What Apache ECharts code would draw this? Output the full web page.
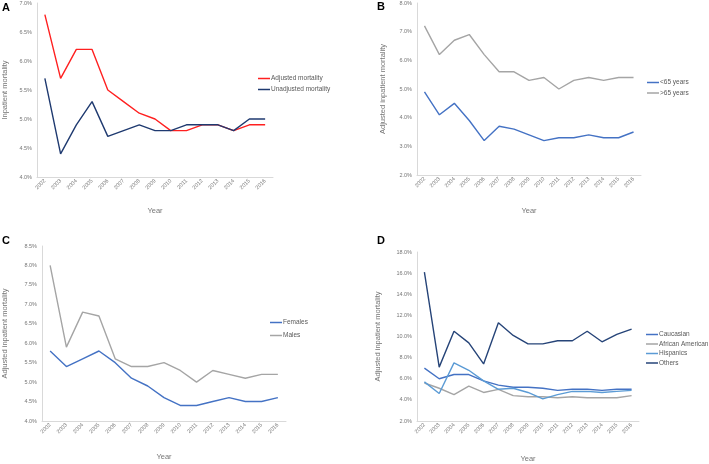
<!DOCTYPE html>
<html><head><meta charset="utf-8">
<script src="https://cdn.jsdelivr.net/npm/echarts@6/dist/echarts.min.js"></script>
<style>html,body{margin:0;padding:0;background:#fff}#c{width:709px;height:464px}</style>
</head><body><div id="c"></div>
<script>
const years = ['2002','2003','2004','2005','2006','2007','2008','2009','2010','2011','2012','2013','2014','2015','2016'];
// Panel A
const adjusted = [6.8,5.7,6.2,6.2,5.5,5.3,5.1,5.0,4.8,4.8,4.9,4.9,4.8,4.9,4.9];
const unadjusted = [5.7,4.4,4.9,5.3,4.7,4.8,4.9,4.8,4.8,4.9,4.9,4.9,4.8,5.0,5.0];
// Panel B
const under65 = [4.9,4.1,4.5,3.9,3.2,3.7,3.6,3.4,3.2,3.3,3.3,3.4,3.3,3.3,3.5];
const over65 = [7.2,6.2,6.7,6.9,6.2,5.6,5.6,5.3,5.4,5.0,5.3,5.4,5.3,5.4,5.4];
// Panel C
const females = [5.8,5.4,5.6,5.8,5.5,5.1,4.9,4.6,4.4,4.4,4.5,4.6,4.5,4.5,4.6];
const males = [8.0,5.9,6.8,6.7,5.6,5.4,5.4,5.5,5.3,5.0,5.3,5.2,5.1,5.2,5.2];
// Panel D
const caucasian = [7.0,6.0,6.4,6.4,5.8,5.4,5.2,5.2,5.1,4.9,5.0,5.0,4.9,5.0,5.0];
const africanAmerican = [5.6,5.1,4.5,5.3,4.7,5.0,4.4,4.3,4.3,4.2,4.3,4.2,4.2,4.2,4.4];
const hispanics = [5.7,4.6,7.5,6.8,5.8,5.0,5.1,4.7,4.1,4.5,4.8,4.8,4.7,4.8,4.9];
const others = [16.1,7.1,10.5,9.4,7.4,11.3,10.1,9.3,9.3,9.6,9.6,10.5,9.5,10.2,10.7];

const axisGray = '#d9d9d9', txt = '#767676';
const grids = [
  {left:36, top:3, width:237, height:174},
  {left:417, top:3, width:224, height:172},
  {left:42, top:246, width:244, height:175},
  {left:417, top:252, width:222, height:175}
];
const yCfg = [
  {min:4, max:7, interval:0.5, name:'Inpatient mortality', gap:28},
  {min:2, max:8, interval:1, name:'Adjusted inpatient mortality', gap:30},
  {min:4, max:8.5, interval:0.5, name:'Adjusted inpatient mortality', gap:33},
  {min:2, max:18, interval:2, name:'Adjusted inpatient mortality', gap:35}
];
const xGap = [30, 32, 32, 34];
const xAxis = grids.map((g,i)=>({
  type:'category', gridIndex:i, data:years, boundaryGap:true,
  name:'Year', nameLocation:'middle', nameGap:xGap[i],
  nameTextStyle:{fontSize:7.5, color:txt, fontFamily:'Liberation Sans'},
  axisLine:{lineStyle:{color:axisGray, width:1}}, axisTick:{show:false},
  axisLabel:{rotate:45, fontSize:5.5, color:txt, interval:0, margin:3, fontFamily:'Liberation Sans'}
}));
const yAxis = yCfg.map((c,i)=>({
  type:'value', gridIndex:i, min:c.min, max:c.max, interval:c.interval,
  name:c.name, nameLocation:'middle', nameRotate:90, nameGap:c.gap,
  nameTextStyle:{fontSize:7.5, color:txt, fontFamily:'Liberation Sans'},
  axisLine:{show:true, lineStyle:{color:axisGray, width:1}}, axisTick:{show:false},
  splitLine:{show:false},
  axisLabel:{fontSize:5.5, color:txt, margin:5, fontFamily:'Liberation Sans', formatter:v=>v.toFixed(1)+'%'}
}));
function ln(name, data, color, idx){
  return {type:'line', name, data, xAxisIndex:idx, yAxisIndex:idx, showSymbol:false, symbol:'none',
    lineStyle:{color, width:1.4}, itemStyle:{color}};
}
const series = [
  ln('Adjusted mortality', adjusted, '#ff2020', 0),
  ln('Unadjusted mortality', unadjusted, '#1f3a70', 0),
  ln('<65 years', under65, '#4472c4', 1),
  ln('>65 years', over65, '#a5a5a5', 1),
  ln('Females', females, '#4472c4', 2),
  ln('Males', males, '#a5a5a5', 2),
  ln('Caucasian', caucasian, '#4472c4', 3),
  ln('African American', africanAmerican, '#a5a5a5', 3),
  ln('Hispanics', hispanics, '#5b9bd5', 3),
  ln('Others', others, '#264478', 3)
];
function lg(names, left, top, gap){
  return {data:names, left, top, orient:'vertical', itemGap:gap, itemWidth:12, itemHeight:1.5, icon:'rect',
    textStyle:{fontSize:6.5, color:'#595959', padding:[0,0,0,-4], fontFamily:'Liberation Sans'}, padding:0, selectedMode:false};
}
const option = {
  animation:false,
  grid:grids,
  xAxis, yAxis, series,
  legend:[
    lg(['Adjusted mortality','Unadjusted mortality'], 258, 75, 4),
    lg(['<65 years','>65 years'], 647, 79, 3.5),
    lg(['Females','Males'], 270, 319, 6),
    lg(['Caucasian','African American','Hispanics','Others'], 646, 331, 2.5)
  ],
  graphic:[
    {type:'text', left:2, top:2, style:{text:'A', font:'bold 11px Liberation Sans', fill:'#000'}},
    {type:'text', left:377, top:1, style:{text:'B', font:'bold 11px Liberation Sans', fill:'#000'}},
    {type:'text', left:2, top:235, style:{text:'C', font:'bold 11px Liberation Sans', fill:'#000'}},
    {type:'text', left:377, top:235, style:{text:'D', font:'bold 11px Liberation Sans', fill:'#000'}}
  ]
};
echarts.init(document.getElementById('c')).setOption(option);
</script></body></html>
